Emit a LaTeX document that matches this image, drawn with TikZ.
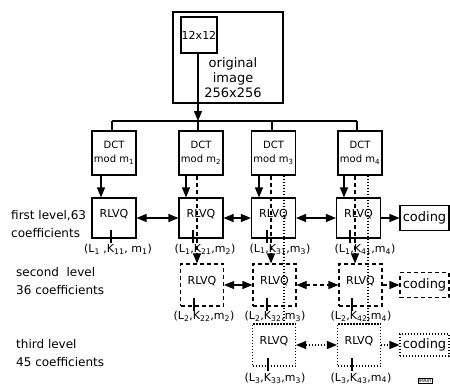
\documentclass[tikz,border=0pt]{standalone}
\usepackage{fontspec}
\setmainfont{DejaVu Sans}
\usetikzlibrary{arrows.meta}
\newcommand\sbs[1]{\textsubscript{#1}}
\begin{document}
\begin{tikzpicture}[x=1pt,y=-1pt,
  box/.style={draw, line width=1.1pt, inner sep=0pt},
  dline/.style={dash pattern=on 4pt off 3pt},
  oline/.style={dash pattern=on 1.2pt off 1.8pt},
  dbox/.style={box, dline},
  obox/.style={box, oline},
  conn/.style={line width=1.1pt},
  tip/.style={-{Triangle[length=10pt,width=8pt]}},
  dtip/.style={{Triangle[length=10pt,width=8pt]}-{Triangle[length=10pt,width=8pt]}},
  dctbox/.style={box, minimum width=44pt, minimum height=44pt, align=center, font=\fontsize{10}{14}\selectfont},
  rl/.style={minimum width=44pt, minimum height=40pt, text depth=10pt, font=\fontsize{11}{12}\selectfont},
  rlb/.style={minimum width=43pt, minimum height=42pt, text depth=10pt, font=\fontsize{11}{12}\selectfont},
  codebox/.style={minimum width=49pt, font=\fontsize{13}{15}\selectfont},
  lab/.style={font=\fontsize{11}{12}\selectfont, inner sep=0pt},
  side/.style={align=left, anchor=west, inner sep=0pt, font=\fontsize{12}{18}\selectfont}
]
\useasboundingbox (0,0) rectangle (450,386);

% original image
\node[box, minimum width=110pt, minimum height=91pt] (orig) at (228,57.5) {};
\node[box, minimum size=36pt, font=\fontsize{11}{12}\selectfont] (blk) at (199,35) {12x12};
\node[align=center, inner sep=0pt, font=\fontsize{13}{15}\selectfont] (origtxt) at (233,77.5) {original\\image\\256x256};

% DCT boxes
\node[dctbox] (d1) at (114,153) {DCT\\mod m\sbs{1}};
\node[dctbox] (d2) at (201,153) {DCT\\mod m\sbs{2}};
\node[dctbox] (d3) at (273.5,153) {DCT\\mod m\sbs{3}};
\node[dctbox] (d4) at (360,153) {DCT\\mod m\sbs{4}};

% branch
\coordinate (j1) at (112,121);
\coordinate (j2) at (198,121);
\coordinate (j3) at (272,121);
\coordinate (j4) at (357,121);
\draw[conn] (j1) -- (j4);
\draw[conn] (j1) -- (j1 |- d1.north);
\draw[conn] (j2) -- (j2 |- d2.north);
\draw[conn] (j3) -- (j3 |- d3.north);
\draw[conn] (j4) -- (j4 |- d4.north);
\draw[conn, tip] (blk.south -| j2) -- (j2);

% first level
\node[box, rl] (r1) at (114,218) {RLVQ};
\node[box, rl] (r2) at (201,218) {RLVQ};
\node[box, rl] (r3) at (273.5,218) {RLVQ};
\node[box, rl] (r4) at (358.5,218) {RLVQ};
\node[box, codebox, minimum height=25pt] (c1) at (424.5,218) {coding};

% second level
\node[dbox, rlb] (s2) at (202,285) {RLVQ};
\node[dbox, rlb] (s3) at (274.5,285) {RLVQ};
\node[dbox, rlb] (s4) at (360.5,285) {RLVQ};
\node[dbox, codebox, minimum height=25pt] (c2) at (424.5,285) {coding};

% third level
\node[obox, rlb] (t3) at (274,345) {RLVQ};
\node[obox, rlb] (t4) at (359,345) {RLVQ};
\node[obox, codebox, minimum height=22pt] (c3) at (424.5,345) {coding};

% column x positions
\coordinate (p1s) at (101,0);
\coordinate (p2s) at (186,0);
\coordinate (p2d) at (197,0);
\coordinate (p3s) at (259,0);
\coordinate (p3d) at (271,0);
\coordinate (p3o) at (284,0);
\coordinate (p4s) at (344,0);
\coordinate (p4d) at (355,0);
\coordinate (p4o) at (368,0);

% vertical connectors
\draw[conn, tip] (d1.south -| p1s) -- (r1.north -| p1s);
\draw[conn, tip] (d2.south -| p2s) -- (r2.north -| p2s);
\draw[conn, tip] (d3.south -| p3s) -- (r3.north -| p3s);
\draw[conn, tip] (d4.south -| p4s) -- (r4.north -| p4s);
\draw[conn, dline, tip] (d2.south -| p2d) -- (s2.north -| p2d);
\draw[conn, dline, tip] (d3.south -| p3d) -- (s3.north -| p3d);
\draw[conn, dline, tip] (d4.south -| p4d) -- (s4.north -| p4d);
\draw[conn, oline] (d3.south -| p3o) -- (t3.north -| p3o);
\draw[conn, oline] (d4.south -| p4o) -- (t4.north -| p4o);

% horizontal connectors
\draw[conn, dtip] (r1) -- (r2);
\draw[conn, dtip] (r2) -- (r3);
\draw[conn, dtip] (r3) -- (r4);
\draw[conn, tip] (r4) -- (c1);
\draw[conn, dtip] (s2) -- (s3);
\draw[conn, dline, dtip] (s3) -- (s4);
\draw[conn, dline, tip] (s4) -- (c2);
\draw[conn, oline, dtip] (t3) -- (t4);
\draw[conn, oline, tip] (t4) -- (c3);

% output ticks
\draw[conn] (111,230) -- (111,243);
\draw[conn] (193,230) -- (193,243);
\draw[conn] (267,230) -- (267,243);
\draw[conn] (350,230) -- (350,243);
\draw[conn] (194,298) -- (194,311);
\draw[conn] (267,298) -- (267,311);
\draw[conn] (352,298) -- (352,311);
\draw[conn] (268,358) -- (268,371);
\draw[conn] (352,358) -- (352,371);

% labels
\node[lab] (l1) at (118,249) {(L\sbs{1} ,K\sbs{11}, m\sbs{1})};
\node[lab] (l2) at (205,249) {(L\sbs{1},K\sbs{21},m\sbs{2})};
\node[lab] (l3) at (280,249) {(L\sbs{1},K\sbs{31},m\sbs{3})};
\node[lab] (l4) at (365,249) {(L\sbs{1},K\sbs{41},m\sbs{4})};
\node[lab] (l5) at (204,316) {(L\sbs{2},K\sbs{22},m\sbs{2})};
\node[lab] (l6) at (275,316) {(L\sbs{2},K\sbs{32},m\sbs{3})};
\node[lab] (l7) at (361,316) {(L\sbs{2},K\sbs{42},m\sbs{4})};
\node[lab] (l8) at (275,378) {(L\sbs{3},K\sbs{33},m\sbs{3})};
\node[lab] (l9) at (361,378) {(L\sbs{3},K\sbs{43},m\sbs{4})};

% side texts
\node[side] (lev1) at (11,224) {first level,63\\coefficients};
\node[side] (lev2) at (16,281) {second\ \ level\\36 coefficients};
\node[side] (lev3) at (16,353) {third level\\45 coefficients};

\node[draw, line width=0.5pt, inner sep=0.6pt, font=\fontsize{5}{5}\selectfont] (fig) at (425,381) {990n};
\end{tikzpicture}
\end{document}
